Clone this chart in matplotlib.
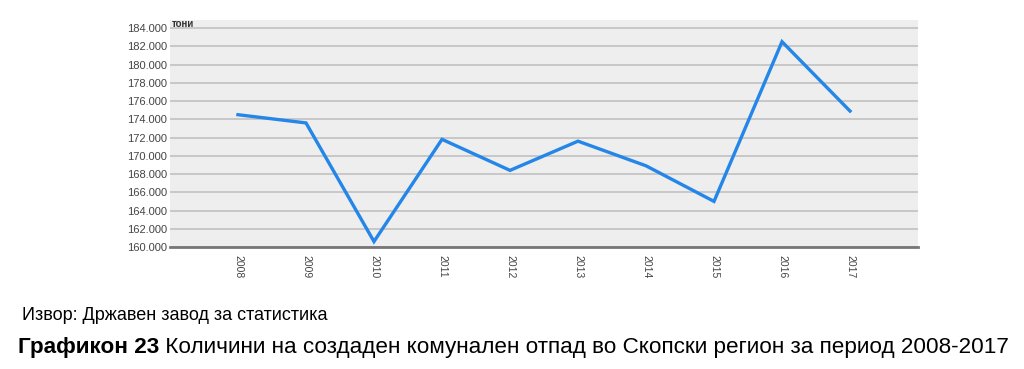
import matplotlib
matplotlib.use("Agg")
import matplotlib.pyplot as plt
from matplotlib.ticker import FuncFormatter, MultipleLocator

years = ["2008", "2009", "2010", "2011", "2012", "2013", "2014", "2015", "2016", "2017"]
tonnes = [174500, 173600, 160600, 171800, 168400, 171600, 168900, 165000, 182500, 174900]

source_text = "Извор: Државен завод за статистика"
caption_bold = "Графикон 23"
caption_rest = " Количини на создаден комунален отпад во Скопски регион за период 2008-2017"

plt.rcParams["font.family"] = ["Liberation Sans", "DejaVu Sans"]

fig = plt.figure(figsize=(10.24, 3.69), dpi=100)
ax = fig.add_axes([0.166, 0.3306, 0.7305, 0.6152])

xs = list(range(1, len(years) + 1))
ax.plot(xs, tonnes, color="#2386e8", linewidth=2.4, solid_joinstyle="miter")

ax.set_facecolor("#eeeeee")
ax.set_xlim(0, len(years) + 1)
ax.set_ylim(160000, 184880)
ax.yaxis.set_major_locator(MultipleLocator(2000))
ax.yaxis.set_major_formatter(FuncFormatter(lambda v, p: f"{int(v):,}".replace(",", ".")))
ax.grid(axis="y", color="#c4c4c4", linewidth=1.3)
ax.set_axisbelow(True)

ax.set_xticks(xs)
ax.set_xticklabels(years, rotation=-90, fontsize=7.5, color="#444444")
ax.tick_params(axis="x", length=0, pad=6)
ax.tick_params(axis="y", length=0, pad=2, labelsize=8, labelcolor="#444444")

for s in ["top", "right", "left"]:
    ax.spines[s].set_visible(False)
ax.spines["bottom"].set_color("#777777")
ax.spines["bottom"].set_linewidth(2)

ax.text(0.003, 1.005, "тони", transform=ax.transAxes, fontsize=7,
        fontweight="bold", color="#333333", va="top", ha="left")

fig.text(22 / 1024, 1 - 316 / 369, source_text, fontsize=13, va="center", ha="left")

t1 = fig.text(18 / 1024, 1 - 348 / 369, caption_bold, fontsize=16.2, fontweight="bold",
              va="center", ha="left")
fig.canvas.draw()
bb = t1.get_window_extent()
fig.text(bb.x1 / 1024, 1 - 348 / 369, caption_rest, fontsize=16.2, va="center", ha="left")

fig.savefig("out.png", dpi=100)
